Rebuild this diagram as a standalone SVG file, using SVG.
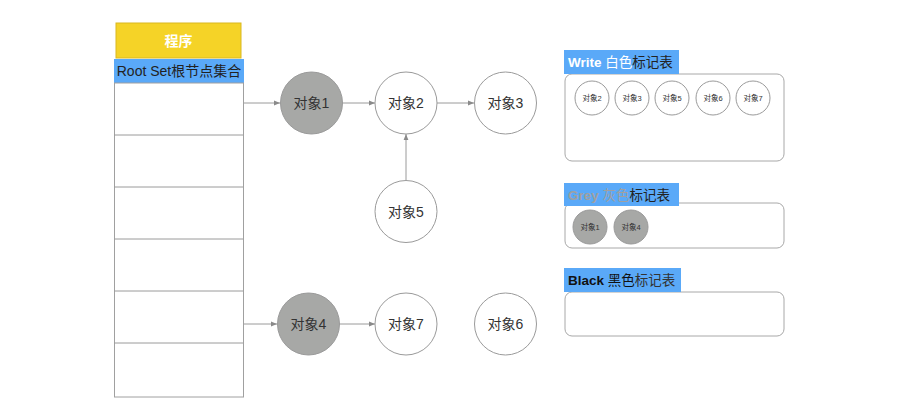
<svg xmlns="http://www.w3.org/2000/svg" width="900" height="408" viewBox="0 0 900 408">
<defs>
<style>
text{font-family:"Liberation Sans","Noto Sans CJK SC",sans-serif;}
.node{stroke:#9a9a9a;stroke-width:1;}
.white{fill:#ffffff;}
.grey{fill:#a7a8a6;}
.lbl{font-size:14px;fill:#333333;text-anchor:middle;dominant-baseline:central;}
.sm{font-size:7.5px;fill:#333333;text-anchor:middle;dominant-baseline:central;}
.conn{stroke:#9a9a9a;stroke-width:1;fill:none;marker-end:url(#arr);}
.panel{fill:#ffffff;stroke:#a8a8a8;stroke-width:1;}
.tag{fill:#5aa9f8;}
.row{stroke:#9a9a9a;stroke-width:1;}
</style>
<marker id="arr" viewBox="0 0 10 10" refX="10" refY="5" markerWidth="6" markerHeight="6" orient="auto" markerUnits="userSpaceOnUse">
<path d="M0,1 L10,5 L0,9 z" fill="#8a8a8a"/>
</marker>
</defs>
<rect width="900" height="408" fill="#ffffff"/>

<g id="program">
<rect x="116" y="23" width="125" height="35" fill="#f5d327" stroke="#d9b820" stroke-width="1"/>
<text x="178.5" y="41" style="font-size:14px;font-weight:bold;fill:#ffffff;text-anchor:middle;dominant-baseline:central">程序</text>
</g>
<g id="rootset">
<rect x="114" y="59" width="130" height="24" class="tag"/>
<text x="179" y="71" style="font-size:14px;fill:#222222;text-anchor:middle;dominant-baseline:central">Root Set根节点集合</text>
<rect x="114.5" y="83" width="129" height="314" fill="#ffffff" stroke="#a0a0a0"/>
<line x1="114" y1="135" x2="243" y2="135" class="row"/>
<line x1="114" y1="187" x2="243" y2="187" class="row"/>
<line x1="114" y1="239" x2="243" y2="239" class="row"/>
<line x1="114" y1="291" x2="243" y2="291" class="row"/>
<line x1="114" y1="343" x2="243" y2="343" class="row"/>
</g>

<g id="connectors">
<line x1="244" y1="103" x2="280" y2="103" class="conn"/>
<line x1="343" y1="103" x2="375" y2="103" class="conn"/>
<line x1="437" y1="103" x2="474" y2="103" class="conn"/>
<line x1="406" y1="180" x2="406" y2="134" class="conn"/>
<line x1="244" y1="324" x2="277" y2="324" class="conn"/>
<line x1="340" y1="324" x2="375" y2="324" class="conn"/>
</g>

<g id="obj1"><circle cx="311.5" cy="103" r="31" class="node grey"/><text x="311.5" y="103" class="lbl">对象1</text></g>
<g id="obj2"><circle cx="406" cy="103" r="31" class="node white"/><text x="406" y="103" class="lbl">对象2</text></g>
<g id="obj3"><circle cx="505.5" cy="103" r="31" class="node white"/><text x="505.5" y="103" class="lbl">对象3</text></g>
<g id="obj5"><circle cx="406" cy="211.5" r="31" class="node white"/><text x="406" y="211.5" class="lbl">对象5</text></g>
<g id="obj4"><circle cx="308.5" cy="324" r="31" class="node grey"/><text x="308.5" y="324" class="lbl">对象4</text></g>
<g id="obj7"><circle cx="406" cy="324" r="31" class="node white"/><text x="406" y="324" class="lbl">对象7</text></g>
<g id="obj6"><circle cx="505.5" cy="324" r="31" class="node white"/><text x="505.5" y="324" class="lbl">对象6</text></g>

<g id="write-table">
<rect x="565" y="74" width="219" height="87" rx="7" class="panel"/>
<rect x="564" y="50" width="115" height="24" class="tag"/>
<text x="568" y="62" style="font-size:13.5px;dominant-baseline:central"><tspan fill="#ffffff" font-weight="bold">Write </tspan><tspan fill="#ffffff">白色</tspan><tspan fill="#222222">标记表</tspan></text>
<circle cx="592" cy="98" r="17" class="node white"/><text x="592" y="98" class="sm">对象2</text>
<circle cx="632" cy="98" r="17" class="node white"/><text x="632" y="98" class="sm">对象3</text>
<circle cx="672" cy="98" r="17" class="node white"/><text x="672" y="98" class="sm">对象5</text>
<circle cx="713" cy="98" r="17" class="node white"/><text x="713" y="98" class="sm">对象6</text>
<circle cx="753" cy="98" r="17" class="node white"/><text x="753" y="98" class="sm">对象7</text>
</g>

<g id="grey-table">
<rect x="565" y="203" width="219" height="45" rx="7" class="panel"/>
<rect x="564" y="183" width="115" height="23" class="tag"/>
<text x="568" y="194.5" style="font-size:13.5px;dominant-baseline:central"><tspan fill="#a0a0a0" font-weight="bold">Grey </tspan><tspan fill="#a0a0a0">灰色</tspan><tspan fill="#222222">标记表</tspan></text>
<circle cx="590" cy="227" r="17" class="node grey"/><text x="590" y="227" class="sm">对象1</text>
<circle cx="631" cy="227" r="17" class="node grey"/><text x="631" y="227" class="sm">对象4</text>
</g>

<g id="black-table">
<rect x="565" y="292" width="219" height="44" rx="7" class="panel"/>
<rect x="564" y="268" width="117" height="24" class="tag"/>
<text x="568" y="280" style="font-size:13.5px;dominant-baseline:central"><tspan fill="#111111" font-weight="bold">Black </tspan><tspan fill="#111111">黑色</tspan><tspan fill="#333333">标记表</tspan></text>
</g>
</svg>
